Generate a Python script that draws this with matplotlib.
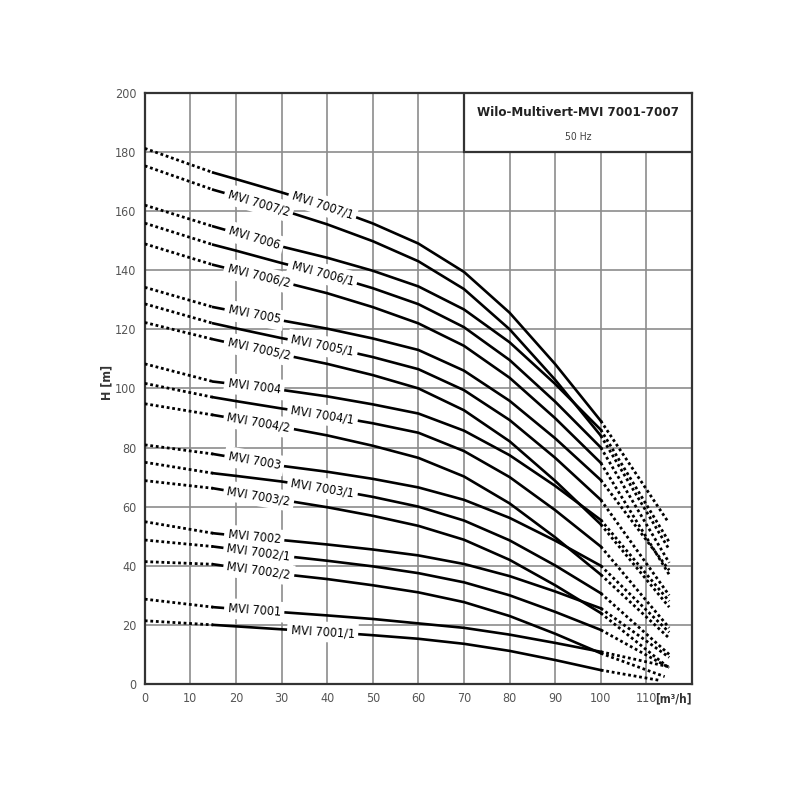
import numpy as np
import matplotlib
matplotlib.use("Agg")
import matplotlib.pyplot as plt
from matplotlib.patches import Rectangle

# head H [m]
# q = 0 (dotted start), solid part at q_solid, then dotted to the end point
q_solid = [15, 20, 30, 40, 50, 60, 70, 80, 90, 100]

names = ["MVI 7007/1", "MVI 7007/2", "MVI 7006", "MVI 7006/1", "MVI 7006/2",
         "MVI 7005", "MVI 7005/1", "MVI 7005/2", "MVI 7004", "MVI 7004/1",
         "MVI 7004/2", "MVI 7003", "MVI 7003/1", "MVI 7003/2", "MVI 7002",
         "MVI 7002/1", "MVI 7002/2", "MVI 7001", "MVI 7001/1"]
h_zero = [181.2, 175.3, 162.0, 155.9, 148.9, 134.2, 128.6, 122.3, 108.3, 101.7,
          94.8, 80.9, 75.0, 68.8, 54.9, 48.7, 41.4, 28.7, 21.4]

mvi_7007_1 = [173, 170.8, 166.3, 161.5, 155.8, 149, 139.4, 125.6, 108.2, 89]
mvi_7007_2 = [167.2, 165, 160.4, 155.5, 149.8, 143, 133.6, 120, 102.9, 84]
mvi_7006 = [154.8, 152.6, 148, 144.2, 139.8, 134.5, 126.7, 115.6, 101.5, 86]
mvi_7006_1 = [148.6, 146.6, 142.4, 138.5, 133.9, 128.5, 120.7, 109.6, 95.5, 80]
mvi_7006_2 = [141.8, 139.9, 136.1, 132.2, 127.5, 122, 114.4, 103.6, 89.9, 74.8]
mvi_7005 = [127.5, 126, 123, 120.2, 116.9, 113, 106, 95.8, 83.1, 69]
mvi_7005_1 = [122, 120.3, 117, 114.1, 110.6, 106.5, 99.4, 89.3, 76.5, 62.3]
mvi_7005_2 = [116.6, 114.9, 111.5, 108.3, 104.5, 100, 92.6, 82.1, 68.7, 54]
mvi_7004 = [102.3, 101.4, 99.5, 97.3, 94.6, 91.5, 85.7, 77.4, 67, 55.5]
mvi_7004_1 = [97, 95.7, 93.2, 90.9, 88.2, 85, 78.8, 70, 58.8, 46.5]
mvi_7004_2 = [91, 89.7, 87, 84.1, 80.6, 76.5, 70.2, 61.1, 49.6, 37]
mvi_7003 = [77.8, 76.5, 73.8, 71.8, 69.4, 66.5, 62.3, 56.2, 48.5, 40]
mvi_7003_1 = [71.3, 70.4, 68.5, 66.1, 63.3, 60, 55.3, 48.6, 40.1, 30.7]
mvi_7003_2 = [66.2, 64.9, 62.3, 59.8, 56.9, 53.5, 48.8, 42, 33.4, 24]
mvi_7002 = [51, 50.2, 48.7, 47.2, 45.5, 43.5, 40.6, 36.5, 31.3, 25.6]
mvi_7002_1 = [46.5, 45.5, 43.4, 41.7, 39.8, 37.5, 34.4, 30, 24.4, 18.3]
mvi_7002_2 = [40.5, 39.4, 37.2, 35.5, 33.4, 31, 27.7, 23, 17, 10.4]
mvi_7001 = [26, 25.4, 24.3, 23.2, 22, 20.5, 19, 16.7, 13.9, 10.9]
mvi_7001_1 = [20, 19.5, 18.5, 17.6, 16.5, 15.3, 13.6, 11.2, 8.1, 4.7]

q_end = [114.7, 115, 115, 115, 115, 115, 115, 115, 115, 115,
         115, 115, 115, 114.5, 115, 115, 114, 115, 113]
h_end = [55.0, 45.5, 48.0, 41.0, 37.0, 38.5, 30.0, 26.0, 28.0, 19.0,
         15.5, 17.5, 10.0, 6.0, 9.0, 5.5, 2.5, 5.8, 1.2]

label_q = [39, 25, 24, 39, 25, 24, 39, 25, 24, 39,
           25, 24, 39, 25, 24, 25, 25, 24, 39]

solid = [mvi_7007_1, mvi_7007_2, mvi_7006, mvi_7006_1, mvi_7006_2,
         mvi_7005, mvi_7005_1, mvi_7005_2, mvi_7004, mvi_7004_1,
         mvi_7004_2, mvi_7003, mvi_7003_1, mvi_7003_2, mvi_7002,
         mvi_7002_1, mvi_7002_2, mvi_7001, mvi_7001_1]

font = dict(family="DejaVu Sans", stretch="condensed")

fig = plt.figure(figsize=(8, 8), dpi=100)
ax = fig.add_axes([0.181, 0.145, 0.684, 0.739])
ax.set_xlim(0, 120)
ax.set_ylim(0, 200)
ax.set_xticks(np.arange(0, 111, 10))
ax.set_yticks(np.arange(0, 201, 20))
ax.tick_params(length=0, pad=6, labelcolor="#555555", labelsize=9)
for lab in ax.get_xticklabels() + ax.get_yticklabels():
    lab.set_family("DejaVu Sans")
    lab.set_stretch("condensed")
ax.grid(True, color="#8c8c8c", lw=1.2)
ax.set_axisbelow(True)
for sp in ax.spines.values():
    sp.set_color("#333333")
    sp.set_linewidth(1.6)

for i in range(len(names)):
    h = solid[i]
    ax.plot([0, q_solid[0]], [h_zero[i], h[0]], color="black", lw=2,
            ls=(0, (1, 1)), zorder=3)
    ax.plot(q_solid, h, color="black", lw=1.9, zorder=3)
    ax.plot([q_solid[-1], q_end[i]], [h[-1], h_end[i]], color="black", lw=2,
            ls=(0, (1, 1)), zorder=3)

    lx = label_q[i]
    ly = np.interp(lx, q_solid, h)
    p1 = ax.transData.transform((lx - 4, np.interp(lx - 4, q_solid, h)))
    p2 = ax.transData.transform((lx + 4, np.interp(lx + 4, q_solid, h)))
    ang = np.degrees(np.arctan2(p2[1] - p1[1], p2[0] - p1[0]))
    ax.text(lx, ly, names[i], rotation=ang, rotation_mode="anchor",
            ha="center", va="center", fontsize=9, color="black", zorder=5,
            bbox=dict(boxstyle="square,pad=0.3", fc="white", ec="none"), **font)

# title box
ax.add_patch(Rectangle((70, 180), 50, 20, facecolor="white", edgecolor="#333333",
                       lw=1.6, zorder=4))
ax.text(95, 193.3, "Wilo-Multivert-MVI 7001-7007", ha="center", va="center",
        fontsize=9.5, fontweight="bold", color="#222222", zorder=6, **font)
ax.text(95, 185.2, "50 Hz", ha="center", va="center", fontsize=7.5,
        color="#444444", zorder=6, **font)

ax.set_ylabel("H [m]", fontweight="bold", fontsize=9, color="#333333", **font)
ax.yaxis.set_label_coords(-0.058, 0.51)
ax.text(120, -5.0, "[m\u00b3/h]", ha="right", va="center", fontsize=8.5,
        fontweight="bold", color="#333333", clip_on=False, **font)

fig.savefig("out.png", dpi=100, facecolor="white")
